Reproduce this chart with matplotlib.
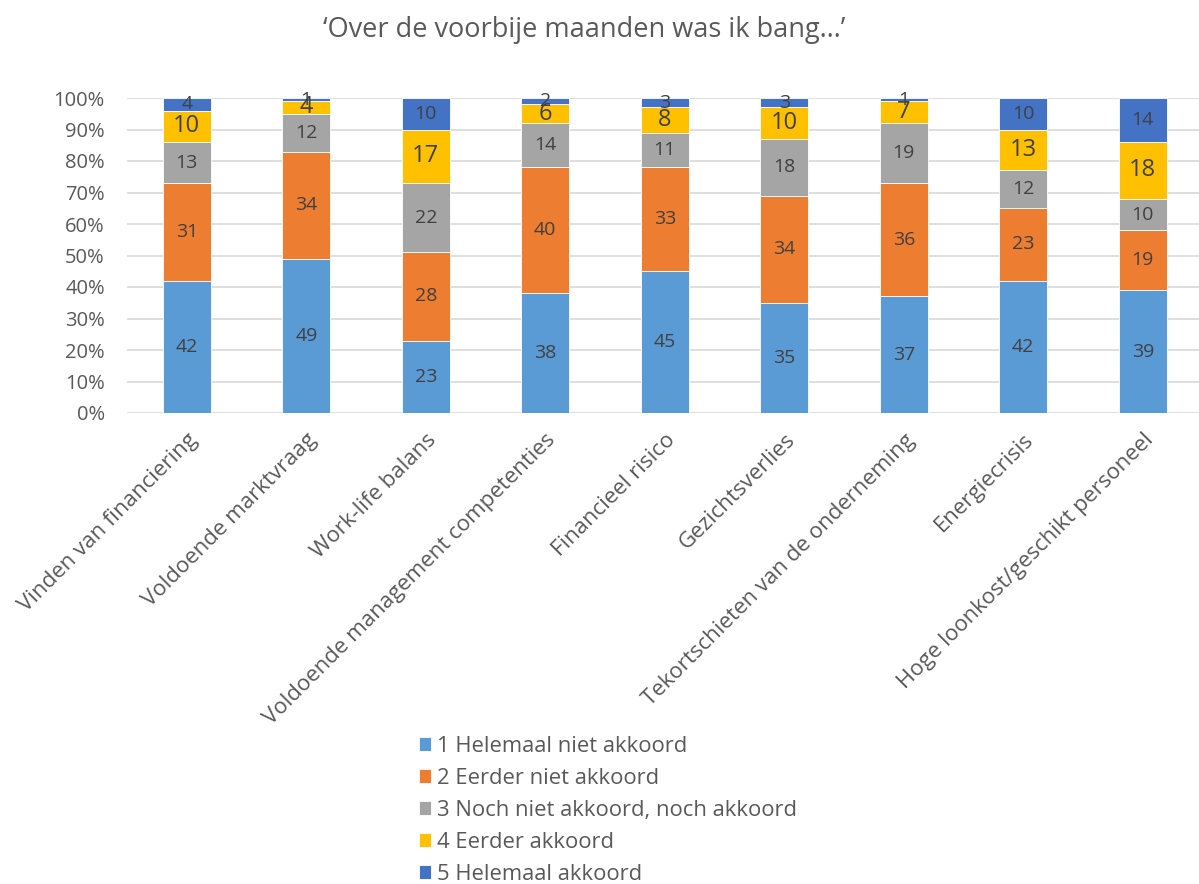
import matplotlib.pyplot as plt
import numpy as np

plt.rcParams["font.family"] = ["Open Sans", "DejaVu Sans"]

categories = [
    "Vinden van financiering",
    "Voldoende marktvraag",
    "Work-life balans",
    "Voldoende management competenties",
    "Financieel risico",
    "Gezichtsverlies",
    "Tekortschieten van de onderneming",
    "Energiecrisis",
    "Hoge loonkost/geschikt personeel",
]
series_names = [
    "1 Helemaal niet akkoord",
    "2 Eerder niet akkoord",
    "3 Noch niet akkoord, noch akkoord",
    "4 Eerder akkoord",
    "5 Helemaal akkoord",
]
helemaal_niet = [42, 49, 23, 38, 45, 35, 37, 42, 39]
eerder_niet = [31, 34, 28, 40, 33, 34, 36, 23, 19]
neutraal = [13, 12, 22, 14, 11, 18, 19, 12, 10]
eerder_wel = [10, 4, 17, 6, 8, 10, 7, 13, 18]
helemaal_wel = [4, 1, 10, 2, 3, 3, 1, 10, 14]

colors = ["#5B9BD5", "#ED7D31", "#A5A5A5", "#FFC000", "#4472C4"]
label_sizes = [14, 14, 14, 17, 14]

fig = plt.figure(figsize=(11.99, 8.84), dpi=100)
ax = fig.add_axes([127 / 1199, 1 - 413 / 884, 1075.5 / 1199, 315 / 884])

x = np.arange(len(categories))
bottom = np.zeros(len(categories))
all_series = [helemaal_niet, eerder_niet, neutraal, eerder_wel, helemaal_wel]
for vals, name, col, fs in zip(all_series, series_names, colors, label_sizes):
    vals = np.array(vals, dtype=float)
    ax.bar(x, vals, 0.4, bottom=bottom, color=col, label=name, zorder=3,
           edgecolor="white", linewidth=0.6)
    for xi, b, v in zip(x, bottom, vals):
        ax.text(xi, b + v / 2, f"{int(v)}", ha="center", va="center",
                fontsize=fs, color="#404040", zorder=4)
    bottom += vals

ax.set_xlim(-0.5, len(categories) - 0.5)
ax.set_ylim(0, 100)
ax.set_yticks(np.arange(0, 101, 10))
ax.set_yticklabels([f"{v}%" for v in range(0, 101, 10)], fontsize=14.5, color="#595959")
ax.set_xticks(x)
ax.set_xticklabels(categories, rotation=45, ha="right", rotation_mode="anchor",
                   fontsize=16, color="#595959")
ax.tick_params(axis="both", length=0)
ax.tick_params(axis="x", pad=12)
ax.tick_params(axis="y", pad=16)
ax.grid(axis="y", color="#D9D9D9", linewidth=1.2, zorder=0)
for s in ax.spines.values():
    s.set_visible(False)

fig.text(584 / 1199, 1 - 30 / 884, "\u2018Over de voorbije maanden was ik bang\u2026\u2019",
         ha="center", va="center", fontsize=19.5, color="#595959")

fig.legend(loc="upper left", bbox_to_anchor=(410 / 1199, 1 - 727 / 884),
           frameon=False, fontsize=15.8, labelcolor="#595959",
           handlelength=0.55, handleheight=0.55, handletextpad=0.3,
           labelspacing=0.5, borderaxespad=0)

fig.savefig("out.png", dpi=100)
